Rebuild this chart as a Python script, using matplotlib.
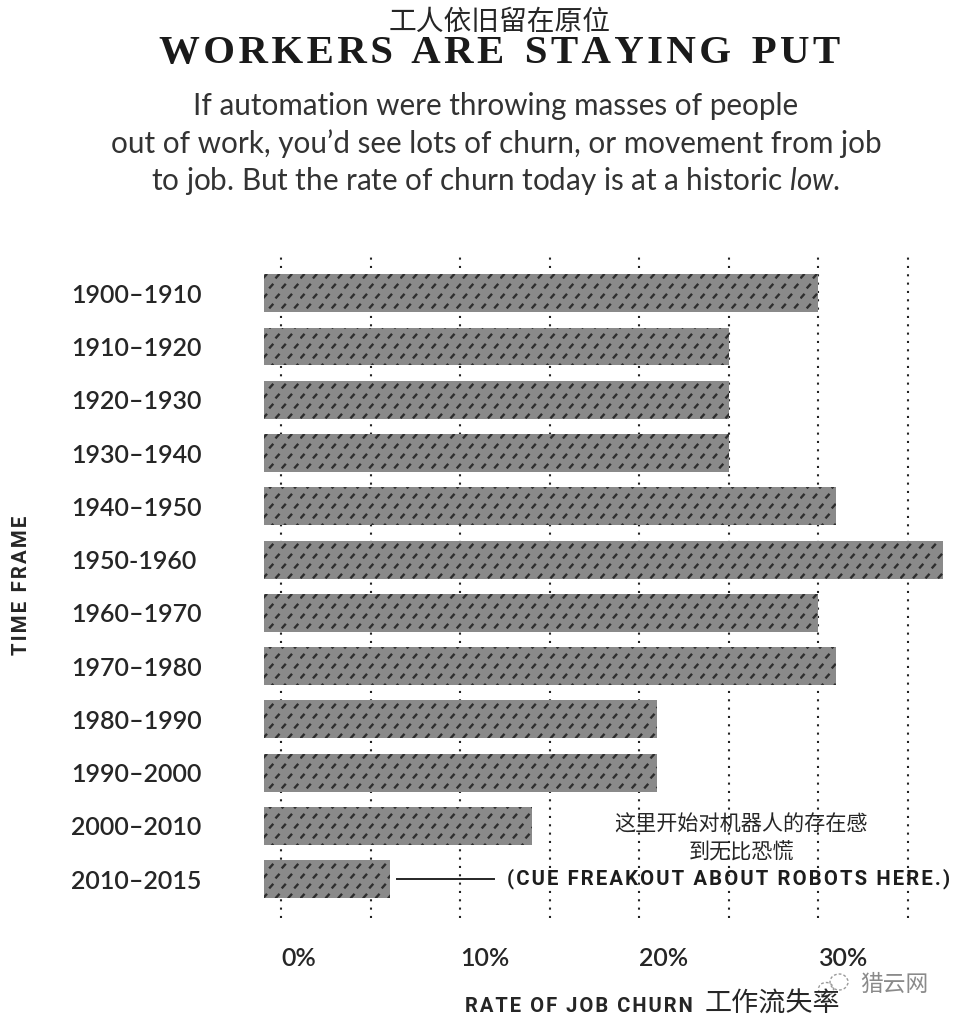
import numpy as np
import matplotlib
matplotlib.use('Agg')
import matplotlib.pyplot as plt
import matplotlib.hatch as mhatch
from matplotlib.patches import Ellipse
from matplotlib.path import Path

# ---- data ----
periods = ['1900–1910', '1910–1920', '1920–1930', '1930–1940', '1940–1950', '1950-1960',
           '1960–1970', '1970–1980', '1980–1990', '1990–2000', '2000–2010', '2010–2015']
churn = [30, 25, 25, 25, 31, 37, 30, 31, 21, 21, 14, 6.1]
bar_base = -0.95
major_ticks = [0, 10, 20, 30]
major_labels = ['0%', '10%', '20%', '30%']
minor_ticks = [5, 15, 25, 35]

W, H = 959, 1024
DARK = '#262626'
LATIN = ['Lato', 'Noto Sans CJK SC', 'DejaVu Sans']
CJK = ['Noto Sans CJK SC', 'DejaVu Sans']
HEAVY = ['Roboto', 'DejaVu Sans']

plt.rcParams['mathtext.fontset'] = 'custom'
plt.rcParams['mathtext.rm'] = 'Lato'
plt.rcParams['mathtext.it'] = 'Lato:italic'
plt.rcParams['hatch.linewidth'] = 1.7


class ShortDash(mhatch.HatchPatternBase):
    """Staggered short diagonal dashes, like the halftone fill of the bars."""
    def __init__(self, hatch, density):
        self.nx = 8
        self.ny = 10
        self.num_vertices = 2 * self.nx * self.ny if hatch.count('/') else 0

    def set_vertices_and_codes(self, vertices, codes):
        k = 0
        for j in range(self.ny):
            for i in range(self.nx):
                x = (i + 0.5 * (j % 2) + 0.1) / self.nx
                y = (j + 0.25) / self.ny
                vertices[k] = (x, y)
                vertices[k + 1] = (x + 0.025, y + 0.028)
                codes[k] = Path.MOVETO
                codes[k + 1] = Path.LINETO
                k += 2


mhatch._hatch_types[:] = [ShortDash]


def fx(px):
    return px / W


def fy(py):
    return 1 - py / H


def spaced(text):
    return '\u200a'.join(text)


fig = plt.figure(figsize=(W / 100, H / 100), dpi=100, facecolor='white')

# axes spans pixels x 264..959, y 255..918
ax = fig.add_axes([fx(264), fy(918), (959 - 264) / W, (918 - 255) / H])
ax.set_facecolor('none')
px_per_unit = 17.9
ax.set_xlim(bar_base, bar_base + (959 - 264) / px_per_unit)
ax.set_ylim(11.73, -0.72)

y = np.arange(len(periods))
ax.barh(y, np.array(churn) - bar_base, left=bar_base, height=0.71,
        color='#8a8a8a', edgecolor='#2e2e2e', hatch='/', linewidth=0, zorder=3)

ax.set_xticks(major_ticks)
ax.set_xticklabels(major_labels, ha='left', family=LATIN, fontsize=18, color=DARK, fontweight='semibold')
ax.set_xticks(minor_ticks, minor=True)
ax.tick_params(axis='x', which='both', length=0, pad=21)
ax.grid(True, axis='x', which='both', color='#222222', linestyle=(0, (1, 3)), linewidth=1.5, zorder=1)

ax.set_yticks(y)
ax.set_yticklabels(periods, ha='left', family=LATIN, fontsize=18, color=DARK, fontweight='semibold')
ax.tick_params(axis='y', length=0, pad=139)
for s in ax.spines.values():
    s.set_visible(False)

# annotation
ax.plot([6.47, 11.9], [11, 11], color=DARK, linewidth=1.4, zorder=3)
ax.text(12.6, 11, spaced('(CUE FREAKOUT ABOUT ROBOTS HERE.)'), va='center', ha='left',
        family=HEAVY, fontweight='bold', fontsize=14.6, color='#1d1d1d', zorder=4)
ax.text(25.7, 9.98, '这里开始对机器人的存在感', va='center', ha='center', family=CJK, fontsize=15.2, color=DARK, zorder=4)
ax.text(25.7, 10.49, '到无比恐慌', va='center', ha='center', family=CJK, fontsize=15.2, color=DARK, zorder=4)

# titles
fig.text(fx(500), fy(22), '工人依旧留在原位', ha='center', va='center', family=CJK, fontsize=20, color=DARK)
fig.text(fx(500), fy(54), '  '.join(spaced(w) for w in ['WORKERS', 'ARE', 'STAYING', 'PUT']),
         ha='center', va='center', family=['Liberation Serif'], fontweight='bold', fontsize=29.4, color='#1a1a1a')
sub_lines = ['If automation were throwing masses of people',
             'out of work, you’d see lots of churn, or movement from job',
             'to job. But the rate of churn today is at a historic $\\mathit{low}$.']
for py, line in zip([106, 144, 181], sub_lines):
    fig.text(fx(496), fy(py), line, ha='center', va='center', family=LATIN, fontsize=21.3, color='#333333')

# axis titles
fig.text(fx(22), fy(585), spaced('TIME FRAME'), rotation=90, ha='center', va='center',
         family=HEAVY, fontweight='bold', fontsize=14.7, color=DARK)
fig.text(fx(465), fy(1006), spaced('RATE OF JOB CHURN'), ha='left', va='center',
         family=HEAVY, fontweight='bold', fontsize=14.5, color=DARK)
fig.text(fx(705), fy(1004), '工作流失率', ha='left', va='center', family=CJK, fontsize=19.5, color=DARK)

# watermark
fig.text(fx(860), fy(984), '猎云网', ha='left', va='center', family=CJK, fontsize=16.4, color='#8a8a8a')
for cx, cy, ww, hh in [(826, 989, 15, 13), (839, 982, 18, 16)]:
    fig.add_artist(Ellipse((fx(cx), fy(cy)), ww / W, hh / H, transform=fig.transFigure,
                           facecolor='none', edgecolor='#9a9a9a', linewidth=1.0, linestyle=(0, (2, 1.5))))

fig.savefig('out.png', dpi=100, facecolor='white')
